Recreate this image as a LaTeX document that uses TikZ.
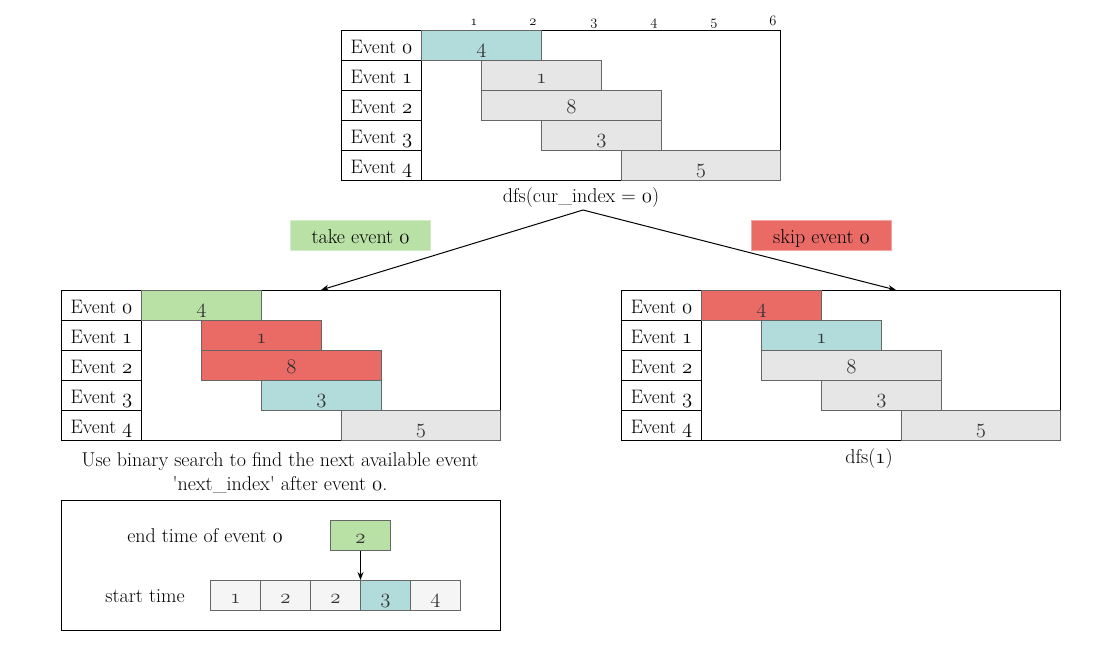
\documentclass[tikz,border=0pt]{standalone}
\usetikzlibrary{arrows.meta}
\definecolor{cteal}{HTML}{B1DCDB}
\definecolor{cgray}{HTML}{E6E6E6}
\definecolor{cstroke}{HTML}{666666}
\definecolor{cred}{HTML}{EA6B66}
\definecolor{cgreen}{HTML}{B9E0A5}
\definecolor{clight}{HTML}{F5F5F5}
\definecolor{ctxt}{HTML}{333333}
\newcommand\osn[1]{{\usefont{OML}{lmm}{m}{it}#1}}
\tikzset{
  txt/.style={inner sep=0pt, font=\fontsize{20}{24}\selectfont},
  outer/.style={draw=black, fill=white, line width=1pt, inner sep=0pt, anchor=north west},
  lbl/.style={draw=black, fill=white, line width=1pt, inner sep=0pt, anchor=north west,
    minimum width=80pt, minimum height=30pt, text height=16.5pt, text depth=0pt,
    font=\fontsize{19.5}{22}\selectfont},
  bar/.style={draw=cstroke, line width=1pt, inner sep=0pt, anchor=north west,
    minimum height=30pt, text height=16.5pt, text depth=0pt, text=ctxt,
    font=\fontsize{22}{24}\selectfont},
  tick/.style={inner sep=0pt, anchor=base, font=\fontsize{15}{17}\selectfont},
  tag/.style={inner sep=0pt, anchor=north west, minimum width=140pt, minimum height=30pt,
    text height=16pt, text depth=0pt, line width=1pt, font=\fontsize{20}{22}\selectfont},
  sbox/.style={draw=cstroke, line width=1pt, inner sep=0pt, anchor=north west,
    minimum width=50pt, minimum height=30pt, text height=16pt, text depth=0pt, text=ctxt,
    font=\fontsize{20}{22}\selectfont},
  arr/.style={-{Stealth[length=8pt,width=6pt]}, line width=1pt, black},
}
\newcommand\evtable[8]{%
  \node[outer, minimum width=439pt, minimum height=150pt] (#1box) at (#2,#3) {};
  \foreach \i in {0,...,4}
    \node[lbl] (#1l\i) at (#2, {#3+30*\i}) {Event \osn{\i}};
  \node[bar, fill=#4, minimum width=120pt] (#1b0) at (#2+80, #3) {\osn{4}};
  \node[bar, fill=#5, minimum width=120pt] (#1b1) at (#2+140, #3+30) {\osn{1}};
  \node[bar, fill=#6, minimum width=180pt] (#1b2) at (#2+140, #3+60) {\osn{8}};
  \node[bar, fill=#7, minimum width=120pt] (#1b3) at (#2+200, #3+90) {\osn{3}};
  \node[bar, fill=#8, minimum width=159pt] (#1b4) at (#2+280, #3+120) {\osn{5}};
}
\begin{document}
\begin{tikzpicture}[x=1pt,y=-1pt]
\useasboundingbox (0,0) rectangle (1102,671);

% top table
\foreach \n/\x in {1/474,2/533,3/594,4/654,5/714,6/773}
  \node[tick] (k\n) at (\x,25.5) {\osn{\n}};
\evtable{t}{341}{30}{cteal}{cgray}{cgray}{cgray}{cgray}
\node[txt, anchor=base] (dfs0) at (581,203) {dfs(cur\_index = \osn{0})};

% tags
\node[tag, fill=cgreen, draw=cgreen!60!white] (take) at (290,220) {take event \osn{0}};
\node[tag, fill=cred, draw=cred!60!white] (skip) at (751,220) {skip event \osn{0}};

% children
\evtable{l}{61}{290}{cgreen}{cred}{cred}{cteal}{cgray}
\evtable{r}{621}{290}{cred}{cteal}{cgray}{cgray}{cgray}
\node[txt, anchor=base] (dfs1) at (869,463) {dfs(\osn{1})};

% arrows
\coordinate (apex) at (583,210);
\coordinate (ltgt) at (321,290);
\coordinate (rtgt) at (896,290);
\draw[arr] (apex) -- (ltgt);
\draw[arr] (apex) -- (rtgt);

% binary search note
\node[txt, anchor=base] (note1) at (280,466) {Use binary search to find the next available event};
\node[txt, anchor=base] (note2) at (280,490) {\textquotesingle next\_index\textquotesingle\ after event \osn{0}.};

\node[outer, minimum width=439pt, minimum height=130pt] (bbox) at (61,500) {};
\node[txt, anchor=base] (endlbl) at (205,542) {end time of event \osn{0}};
\node[sbox, fill=cgreen, minimum width=60pt] (g2) at (330,520) {\osn{2}};
\node[txt, anchor=base] (stlbl) at (145,602) {start time};
\node[sbox, fill=clight] (s1) at (210,580) {\osn{1}};
\node[sbox, fill=clight] (s2) at (260,580) {\osn{2}};
\node[sbox, fill=clight] (s3) at (310,580) {\osn{2}};
\node[sbox, fill=cteal] (s4) at (360,580) {\osn{3}};
\node[sbox, fill=clight] (s5) at (410,580) {\osn{4}};
\draw[arr] (g2.south) -- (g2.south |- s4.north);
\end{tikzpicture}
\end{document}
